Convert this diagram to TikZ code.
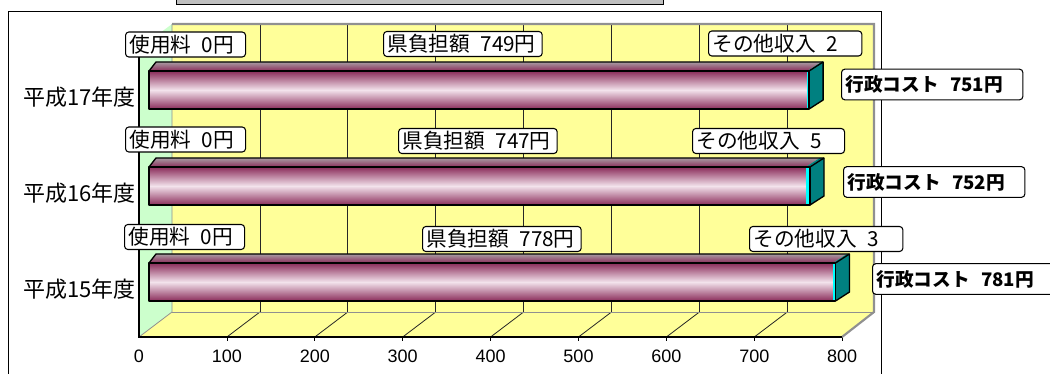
\documentclass[tikz,border=0pt]{standalone}
\usepackage{fontspec}
\setmainfont{Noto Sans CJK JP}
\newfontfamily\arialf{Liberation Sans}
\definecolor{wallY}{HTML}{FFFF99}
\definecolor{wallG}{HTML}{CCFFCC}
\definecolor{plumD}{HTML}{8A2C5A}
\definecolor{pinkL}{HTML}{F3E3EC}
\definecolor{topG}{HTML}{A89BA2}
\definecolor{barTeal}{HTML}{008080}
\definecolor{barCyan}{HTML}{00FFFF}
\definecolor{wallEdge}{HTML}{909090}
\begin{document}
\begin{tikzpicture}[x=0.75pt,y=-0.75pt,
  lbl/.style={draw=black, line width=0.8pt, rounded corners=2.5pt, fill=white,
    anchor=west, inner xsep=3pt, inner ysep=0pt, minimum height=18.75pt,
    text width=#1, align=left, font=\fontsize{15.5}{15.5}\selectfont},
  costlbl/.style={lbl=#1, minimum height=23pt, font=\bfseries\fontsize{14}{14}\selectfont},
  catlbl/.style={anchor=east, inner sep=0pt, font=\fontsize{16.5}{16.5}\selectfont},
  axlbl/.style={anchor=center, inner sep=0pt, font=\arialf\fontsize{13.5}{13.5}\selectfont},
  gridln/.style={line width=0.6pt, draw=black!85},
  baredge/.style={draw=black, line width=1pt, line join=round}]
\useasboundingbox (0,0) rectangle (1050,374);
% outer frame
\draw[line width=0.7pt] (8,400) -- (8,11) -- (881,11) -- (881,400);
% title box (cut off at top)
\draw[line width=0.7pt, fill=black!25] (176,-20) rectangle (663,4);
% walls
\fill[wallY] (172,24) rectangle (874,312);
\fill[wallG] (139,49) -- (172,24) -- (172,312) -- (139,337) -- cycle;
\fill[wallY] (139,337) -- (842,337) -- (874,312) -- (172,312) -- cycle;
% grid lines
\foreach \k in {1,...,7} {
  \draw[gridln] ({172+87.9*\k},24) -- ({172+87.9*\k},312);
  \draw[gridln] ({139+87.9*\k},337) -- ({172+87.9*\k},312);
  \draw[line width=0.6pt] ({139+87.9*\k},337) -- ({139+87.9*\k},341);
}
\draw[line width=0.6pt] (842,337) -- (842,341);
\draw[wallEdge, line width=0.6pt] (172,312) -- (874,312);
\draw[wallEdge, line width=0.6pt] (139,337) -- (172,312) -- (172,24);
\draw[wallEdge, line width=1.6pt] (172,24) -- (874,24) -- (874,312) -- (842,337);
\draw[line width=0.8pt] (139,49) -- (139,337) -- (842,337);
% bars: yt, yb, xm (end of 県負担額), xo (end of その他収入)
\foreach \yt/\yb/\xm/\xo in {71/109/807.4/809.1, 167/205/805.6/810.0, 263/301/832.9/835.5} {
  \shade[top color=plumD, bottom color=plumD, middle color=pinkL] (149,\yt) rectangle (\xm,\yb);
  \fill[barCyan] (\xm,\yt) rectangle (\xo,\yb);
  \shade[top color=topG, bottom color=plumD] (149,\yt) -- (156,\yt-9) -- (\xm+14,\yt-9) -- (\xm,\yt) -- cycle;
  \fill[barTeal] (\xm,\yt) -- (\xm+14,\yt-9) -- (\xo+14,\yt-9) -- (\xo,\yt) -- cycle;
  \fill[barTeal] (\xo,\yt) -- (\xo+14,\yt-9) -- (\xo+14,\yb-9) -- (\xo,\yb) -- cycle;
  \draw[baredge] (149,\yt) rectangle (\xo,\yb);
  \draw[baredge] (149,\yt) -- (156,\yt-9) -- (\xo+14,\yt-9) -- (\xo+14,\yb-9) -- (\xo,\yb);
  \draw[baredge] (\xo,\yt) -- (\xo+14,\yt-9);
}
% category labels
\node[catlbl] (c17) at (136,97) {平成17年度};
\node[catlbl] (c16) at (136,193) {平成16年度};
\node[catlbl] (c15) at (136,289) {平成15年度};
% axis labels
\foreach \v [count=\i from 0] in {0,100,200,300,400,500,600,700,800}
  \node[axlbl] (ax\i) at ({139+87.9*\i},356) {\v};
% data labels
\node[lbl=84pt] (u17) at (125,44.5) {使用料\hspace{0.5em}0円};
\node[lbl=84pt] (u16) at (125,139.5) {使用料\hspace{0.5em}0円};
\node[lbl=84pt] (u15) at (124,237) {使用料\hspace{0.5em}0円};
\node[lbl=113pt] (k17) at (383,44) {県負担額\hspace{0.5em}749円};
\node[lbl=113pt] (k16) at (398,141) {県負担額\hspace{0.5em}747円};
\node[lbl=113pt] (k15) at (422,239) {県負担額\hspace{0.5em}778円};
\node[lbl=109pt] (o17) at (708,43.5) {その他収入\hspace{0.5em}2};
\node[lbl=108pt] (o16) at (692,141) {その他収入\hspace{0.5em}5};
\node[lbl=109pt] (o15) at (749,239) {その他収入\hspace{0.5em}3};
\node[costlbl=130pt] (g17) at (841,84.5) {行政コスト\hspace{0.6em}751円};
\node[costlbl=130pt] (g16) at (843,182) {行政コスト\hspace{0.6em}752円};
\node[costlbl=130pt] (g15) at (872,279) {行政コスト\hspace{0.6em}781円};
\end{tikzpicture}
\end{document}
